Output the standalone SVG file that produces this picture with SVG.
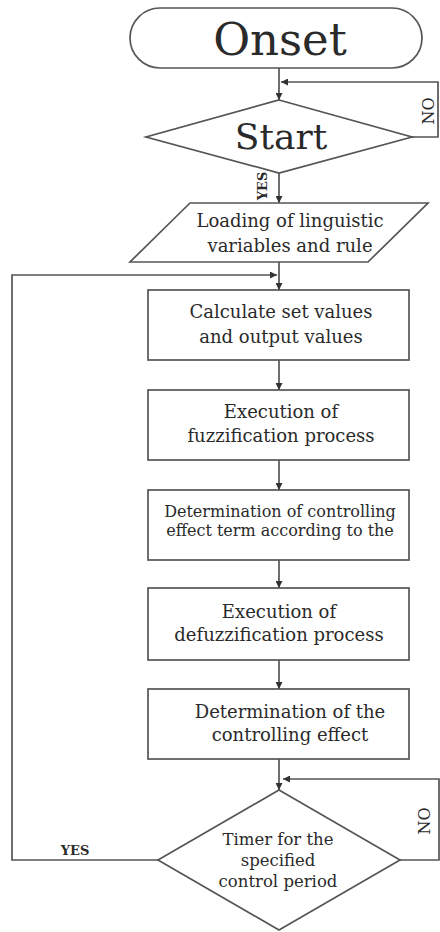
<svg xmlns="http://www.w3.org/2000/svg" width="440" height="932" viewBox="0 0 440 932">
<style>
.s{fill:#fff;stroke:#555;stroke-width:1.7}
.c{fill:none;stroke:#555;stroke-width:1.7}
text{font-family:"DejaVu Serif","Liberation Serif",serif;fill:#2a2a2a;text-anchor:middle}
.m{font-size:18px}
.sm{font-size:16px}
.lb{font-size:13px;font-weight:bold}
</style>
<defs>
<marker id="a" viewBox="0 0 10 10" refX="10" refY="5" markerWidth="7" markerHeight="7" markerUnits="userSpaceOnUse" orient="auto">
<path d="M0,0 L10,5 L0,10 z" fill="#333"/>
</marker>
</defs>
<rect width="440" height="932" fill="#fff"/>
<g id="connectors">
<line class="c" x1="279" y1="68" x2="279" y2="100" marker-end="url(#a)"/>
<polyline class="c" points="412,137 438,137 438,82 281,82" marker-end="url(#a)"/>
<line class="c" x1="279" y1="173" x2="279" y2="203" marker-end="url(#a)"/>
<line class="c" x1="279" y1="262" x2="279" y2="290" marker-end="url(#a)"/>
<polyline class="c" points="158,860 12,860 12,275 277,275" marker-end="url(#a)"/>
<line class="c" x1="279" y1="360" x2="279" y2="390" marker-end="url(#a)"/>
<line class="c" x1="279" y1="460" x2="279" y2="490" marker-end="url(#a)"/>
<line class="c" x1="279" y1="560" x2="279" y2="588" marker-end="url(#a)"/>
<line class="c" x1="279" y1="660" x2="279" y2="689" marker-end="url(#a)"/>
<line class="c" x1="279" y1="759" x2="279" y2="790" marker-end="url(#a)"/>
<polyline class="c" points="400,860 439,860 439,779 283,779" marker-end="url(#a)"/>
<text class="lb" transform="translate(267,186) rotate(-90)">YES</text>
<text style="font-size:16px" transform="translate(434,111) rotate(-90)">NO</text>
<text style="font-size:16px" transform="translate(430,821) rotate(-90)">NO</text>
<text class="lb" x="75" y="855">YES</text>
</g>
<g id="onset">
<rect class="s" x="130" y="8" width="292" height="60" rx="30"/>
<text x="280" y="55" style="font-size:45px">Onset</text>
</g>
<g id="start">
<polygon class="s" points="279,100 412,137 279,173 146,137"/>
<text x="281" y="149" style="font-size:36px">Start</text>
</g>
<g id="loading">
<polygon class="s" points="190,203 428,203 368,262 130,262"/>
<text class="m" x="290" y="227">Loading of linguistic</text>
<text class="m" x="290" y="252">variables and rule</text>
</g>
<g id="calculate">
<rect class="s" x="148" y="290" width="261" height="70"/>
<text class="m" x="281" y="318">Calculate set values</text>
<text class="m" x="281" y="343">and output values</text>
</g>
<g id="fuzzification">
<rect class="s" x="148" y="390" width="261" height="70"/>
<text class="m" x="281" y="418">Execution of</text>
<text class="m" x="281" y="442">fuzzification process</text>
</g>
<g id="term">
<rect class="s" x="148" y="490" width="261" height="70"/>
<text class="sm" x="280" y="517">Determination of controlling</text>
<text class="sm" x="280" y="536">effect term according to the</text>
</g>
<g id="defuzzification">
<rect class="s" x="148" y="588" width="261" height="72"/>
<text class="m" x="279" y="618">Execution of</text>
<text class="m" x="279" y="641">defuzzification process</text>
</g>
<g id="effect">
<rect class="s" x="148" y="689" width="261" height="70"/>
<text class="m" x="290" y="718">Determination of the</text>
<text class="m" x="290" y="741">controlling effect</text>
</g>
<g id="timer">
<polygon class="s" points="279,790 400,860 279,930 158,860"/>
<text style="font-size:16.5px" x="278" y="845">Timer for the</text>
<text style="font-size:16.5px" x="278" y="866">specified</text>
<text style="font-size:16.5px" x="278" y="887">control period</text>
</g>
</svg>
